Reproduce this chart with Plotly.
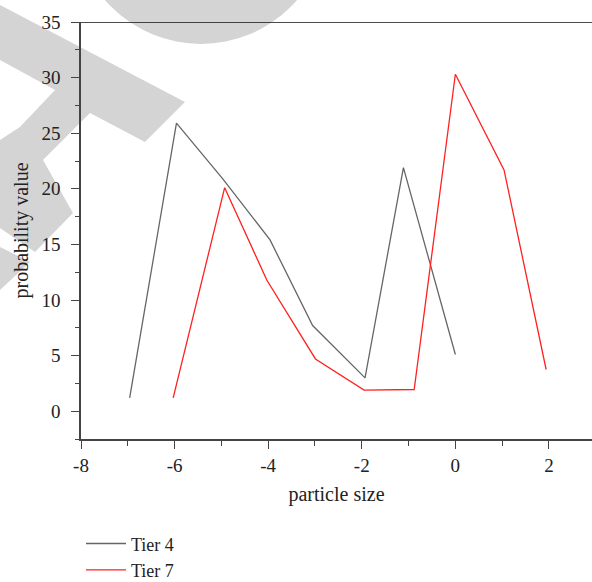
import plotly.graph_objects as go

# ---- data ----
tier4_x = [-6.96, -5.96, -4.97, -3.96, -3.05, -1.93, -1.11, 0.0]
tier4_y = [1.2, 25.9, 20.9, 15.4, 7.7, 3.0, 21.9, 5.1]
tier7_x = [-6.03, -4.93, -4.03, -2.99, -1.95, -0.88, 0.0, 1.04, 1.94]
tier7_y = [1.2, 20.1, 11.8, 4.7, 1.9, 1.95, 30.3, 21.7, 3.75]
series_names = ["Tier 4", "Tier 7"]
x_tickvals = [-8, -6, -4, -2, 0, 2]
x_ticktext = ["-8", "-6", "-4", "-2", "0", "2"]
y_tickvals = [0, 5, 10, 15, 20, 25, 30, 35]
y_ticktext = ["0", "5", "10", "15", "20", "25", "30", "35"]
x_title = "particle size"
y_title = "probability value"

W, H = 592, 582
L, R, T, B = 81, 0, 22, 143
pw, ph = W - L - R, H - T - B
FONT = "Liberation Serif"
FS = 19


def px2paper(px, py):
    return (px - L) / pw, (H - B - py) / ph


def path(points):
    pts = [px2paper(x, y) for x, y in points]
    return "M " + " L ".join(f"{x:.4f},{y:.4f}" for x, y in pts) + " Z"


fig = go.Figure()
fig.add_trace(go.Scatter(x=tier4_x, y=tier4_y, mode="lines", name=series_names[0],
                         line=dict(color="#666666", width=1.3)))
fig.add_trace(go.Scatter(x=tier7_x, y=tier7_y, mode="lines", name=series_names[1],
                         line=dict(color="#ff2020", width=1.3)))

wm = "#d4d4d4"
shapes = []
# watermark (decorative)
cx0, cy0 = px2paper(74, -210)
cx1, cy1 = px2paper(328, 44)
shapes.append(dict(type="circle", xref="paper", yref="paper", x0=cx0, y0=cy0, x1=cx1, y1=cy1,
                   fillcolor=wm, line=dict(width=0), layer="below"))
shapes.append(dict(type="path", xref="paper", yref="paper",
                   path=path([(0, 5), (185, 102), (145, 142), (90, 113), (43, 160), (73, 213),
                              (35, 252), (0, 228), (0, 140), (20, 127), (55, 90), (0, 60)]),
                   fillcolor=wm, line=dict(width=0), layer="below"))
shapes.append(dict(type="path", xref="paper", yref="paper",
                   path=path([(0, 247), (30, 262), (0, 290)]),
                   fillcolor=wm, line=dict(width=0), layer="below"))
# top frame line
shapes.append(dict(type="line", xref="paper", yref="y", x0=0, x1=1, y0=35, y1=35,
                   line=dict(color="#111111", width=1.5), layer="above"))

fig.update_layout(
    width=W, height=H,
    margin=dict(l=L, r=R, t=T, b=B, pad=0, autoexpand=False),
    paper_bgcolor="white", plot_bgcolor="rgba(0,0,0,0)",
    font=dict(family=FONT, size=FS, color="#222222"),
    shapes=shapes,
    showlegend=True,
    legend=dict(x=0.0, xanchor="left", y=-0.207, yanchor="top", orientation="v",
                font=dict(family=FONT, size=18, color="#222222"),
                bgcolor="rgba(0,0,0,0)", itemwidth=40),
)
fig.update_xaxes(range=[-8, 2.92], tickmode="array", tickvals=x_tickvals, ticktext=x_ticktext,
                 ticks="outside", ticklen=8, tickwidth=1.2, tickcolor="#444444",
                 minor=dict(dtick=1, tick0=-8, ticks="outside", ticklen=5, tickwidth=1.2,
                            tickcolor="#444444"),
                 showline=True, linecolor="#444444", linewidth=1.5,
                 showgrid=False, zeroline=False, automargin=False,
                 title=dict(text=x_title, standoff=12, font=dict(family=FONT, size=FS + 1)),
                 tickfont=dict(family=FONT, size=FS))
fig.update_yaxes(range=[-2.5, 35], tickmode="array", tickvals=y_tickvals, ticktext=y_ticktext,
                 ticks="outside", ticklen=8, tickwidth=1.2, tickcolor="#444444",
                 minor=dict(dtick=2.5, tick0=0, ticks="outside", ticklen=4, tickwidth=1.2,
                            tickcolor="#444444"),
                 showline=True, linecolor="#444444", linewidth=1.5,
                 showgrid=False, zeroline=False, ticklabelstandoff=7, automargin=False,
                 title=dict(text=y_title, standoff=7, font=dict(family=FONT, size=FS + 1)),
                 tickfont=dict(family=FONT, size=FS))

fig.write_html("out.html", config={"displayModeBar": False},
               post_script="document.body.style.margin='0';document.body.style.overflow='hidden';")
